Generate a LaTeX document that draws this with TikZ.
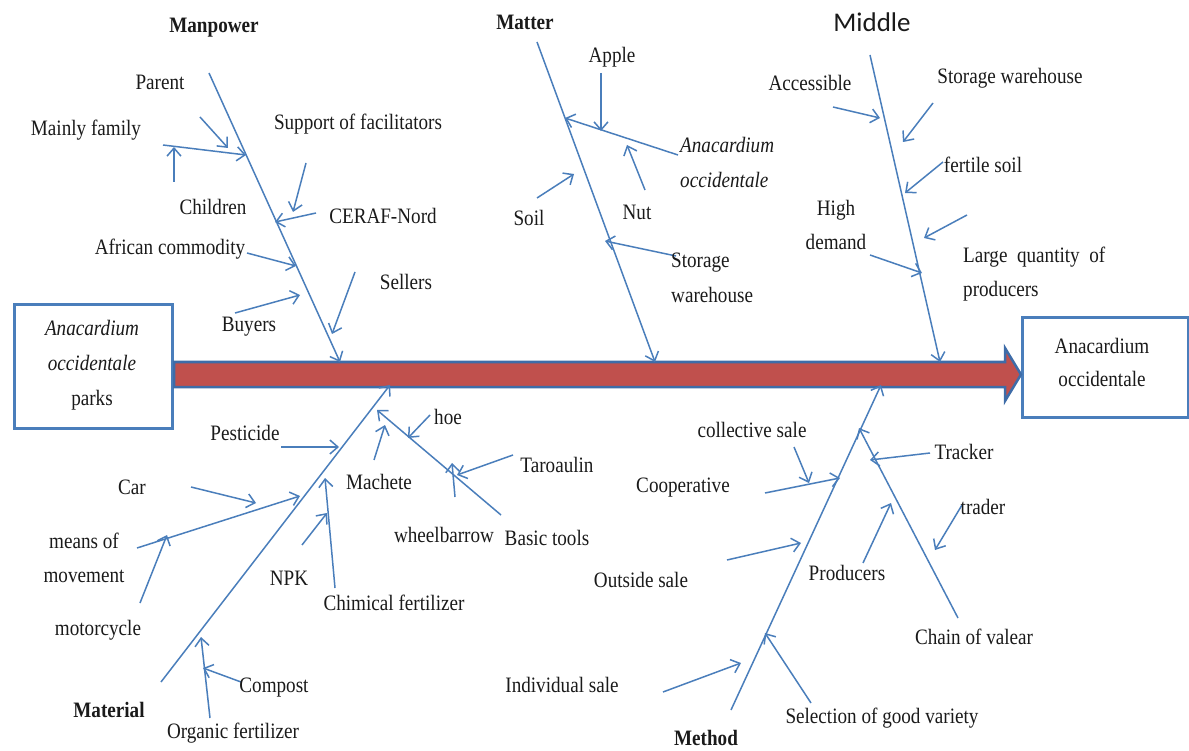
\documentclass[tikz,border=0pt]{standalone}
\usepackage{fontspec}
\setmainfont{Liberation Serif}[FakeStretch=0.87]
\newfontfamily\calib{Carlito}
\usetikzlibrary{arrows.meta}
\definecolor{bl}{HTML}{4A7EBB}
\definecolor{bardark}{HTML}{3E6CA8}
\definecolor{barred}{HTML}{C0504D}
\definecolor{txt}{HTML}{1A1A1A}
\tikzset{
  arr/.style={draw=bl, line width=1.5pt, -{Straight Barb[length=8pt,width=14pt,line width=1.5pt]}},
  plain/.style={draw=bl, line width=1.5pt},
  lbl/.style={text=txt, font=\fontsize{22}{24}\selectfont, inner sep=0pt},
  lbl2/.style={lbl, align=center, font=\fontsize{22}{34}\selectfont},
  head/.style={lbl, font=\fontsize{22}{24}\selectfont\bfseries},
  boxst/.style={draw=bl, line width=3pt, fill=white}
}
\newcommand{\bone}[3]{\coordinate (#1-s) at #2; \coordinate (#1-e) at #3; \draw[arr] (#1-s) -- (#1-e);}
\begin{document}
\begin{tikzpicture}[x=1pt,y=-1pt]
\useasboundingbox (0,0) rectangle (1189,751);
% boxes
\node[boxst, minimum width=158pt, minimum height=124pt, anchor=north west] (lbox) at (13,303) {};
\node[lbl2, text=txt, font=\fontsize{22}{35}\selectfont] (ltext) at (92,365) {\itshape Anacardium\\\itshape occidentale\\parks};
\node[boxst, minimum width=166pt, minimum height=100pt, anchor=north west] (rbox) at (1021,316) {};
\node[lbl, align=center, font=\fontsize{22}{33}\selectfont] (rtext) at (1102,362) {Anacardium\\occidentale};
% main bar
\draw[draw=bardark, line width=2.5pt, fill=barred, line join=miter]
  (lbox.east |- 0,362) -- (1005,362) -- (1005,348) -- (rbox.west |- 0,374.5) -- (1005,401) -- (1005,387) -- (lbox.east |- 0,387) -- cycle;
% ===== Manpower =====
\node[head] (manpower) at (214,28) {Manpower};
\bone{mp}{(209,73)}{(340,362)}
\bone{parent}{(200,117)}{(228,148)}
\bone{family}{(163,145)}{(246,155)}
\bone{children}{(174,182)}{(174,147)}
\bone{support}{(306,163)}{(293,212)}
\bone{ceraf}{(316,213)}{(275,222)}
\bone{african}{(247,253)}{(296,266)}
\bone{sellers}{(355,272)}{(332,334)}
\bone{buyers}{(235,313)}{(300,295)}
\node[lbl] (tparent) at (160,82) {Parent};
\node[lbl] (tfamily) at (86,130) {Mainly family};
\node[lbl] (tsupport) at (358,124) {Support of facilitators};
\node[lbl] (tchildren) at (213,207) {Children};
\node[lbl] (tceraf) at (383,216) {CERAF-Nord};
\node[lbl] (tafrican) at (170,249) {African commodity};
\node[lbl] (tsellers) at (406,282) {Sellers};
\node[lbl] (tbuyers) at (249,327) {Buyers};
% ===== Matter =====
\node[head] (matter) at (525,22) {Matter};
\bone{mt}{(537,42)}{(655,362)}
\bone{anac}{(678,155)}{(565,118)}
\bone{apple}{(601,73)}{(601,131)}
\bone{nut}{(645,190)}{(627,145)}
\bone{soil}{(537,198)}{(574,174)}
\bone{storage}{(676,256)}{(605,241)}
\node[lbl] (tapple) at (612,57) {Apple};
\node[lbl, align=left, anchor=west, font=\fontsize{22}{35}\selectfont\itshape] (tanac) at (680,162) {Anacardium\\occidentale};
\node[lbl] (tnut) at (637,212) {Nut};
\node[lbl] (tsoil) at (529,218) {Soil};
\node[lbl, align=left, anchor=west, font=\fontsize{22}{35}\selectfont] (tstorage) at (671,278) {Storage\\warehouse};
% ===== Middle =====
\node[lbl, font=\fontsize{27}{30}\selectfont\calib] (middle) at (872,22) {Middle};
\bone{md}{(870,55)}{(940,362)}
\bone{access}{(833,107)}{(880,118)}
\bone{stor2}{(933,103)}{(903,142)}
\bone{fertile}{(943,162)}{(905,193)}
\bone{extra}{(967,215)}{(924,238)}
\bone{high}{(870,255)}{(922,273)}
\node[lbl] (taccess) at (810,83) {Accessible};
\node[lbl] (tstor2) at (1010,78) {Storage warehouse};
\node[lbl] (tfertile) at (983,165) {fertile soil};
\node[lbl2] (thigh) at (836,225) {High\\demand};
\node[lbl, align=left, anchor=west, font=\fontsize{22}{34}\selectfont] (tlarge) at (963,274) {Large\ \ quantity\ \ of\\producers};
% ===== Material =====
\node[head] (material) at (109,710) {Material};
\bone{ma}{(161,682)}{(390,385)}
\bone{pest}{(281,447)}{(339,447)}
\bone{car}{(191,487)}{(256,503)}
\bone{means}{(137,548)}{(300,496)}
\bone{moto}{(140,603)}{(167,535)}
\bone{npk}{(302,545)}{(327,513)}
\bone{chim}{(335,588)}{(325,478)}
\bone{mach}{(374,460)}{(385,425)}
\bone{tools}{(501,515)}{(377,410)}
\bone{hoe}{(430,415)}{(408,438)}
\bone{taro}{(513,455)}{(457,475)}
\bone{wheel}{(455,497)}{(452,463)}
\bone{organic}{(210,718)}{(201,637)}
\bone{compost}{(241,682)}{(203,668)}
\node[lbl] (tpest) at (245,433) {Pesticide};
\node[lbl] (thoe) at (448,417) {hoe};
\node[lbl] (tcar) at (132,487) {Car};
\node[lbl] (tmach) at (379,482) {Machete};
\node[lbl] (ttaro) at (557,465) {Taroaulin};
\node[lbl2] (tmeans) at (84,558) {means of\\movement};
\node[lbl] (twheel) at (444,535) {wheelbarrow};
\node[lbl] (ttools) at (547,538) {Basic tools};
\node[lbl] (tnpk) at (289,578) {NPK};
\node[lbl] (tchim) at (394,603) {Chimical fertilizer};
\node[lbl] (tmoto) at (98,630) {motorcycle};
\node[lbl] (tcompost) at (274,688) {Compost};
\node[lbl] (torganic) at (233,733) {Organic fertilizer};
% ===== Method =====
\node[head] (method) at (706,738) {Method};
\bone{me}{(731,710)}{(881,385)}
\bone{chain}{(958,618)}{(859,428)}
\bone{collect}{(794,447)}{(809,483)}
\bone{coop}{(765,493)}{(840,478)}
\bone{track}{(930,453)}{(870,460)}
\bone{trader}{(962,505)}{(935,550)}
\bone{prod}{(863,563)}{(891,503)}
\bone{outside}{(727,560)}{(801,543)}
\bone{indiv}{(663,692)}{(741,663)}
\bone{select}{(811,703)}{(765,633)}
\node[lbl] (tcollect) at (752,430) {collective sale};
\node[lbl] (ttrack) at (964,452) {Tracker};
\node[lbl] (tcoop) at (683,488) {Cooperative};
\node[lbl] (ttrader) at (983,507) {trader};
\node[lbl] (toutside) at (641,580) {Outside sale};
\node[lbl] (tprod) at (847,573) {Producers};
\node[lbl] (tchain) at (974,637) {Chain of valear};
\node[lbl] (tindiv) at (562,685) {Individual sale};
\node[lbl] (tselect) at (882,718) {Selection of good variety};
\end{tikzpicture}
\end{document}
